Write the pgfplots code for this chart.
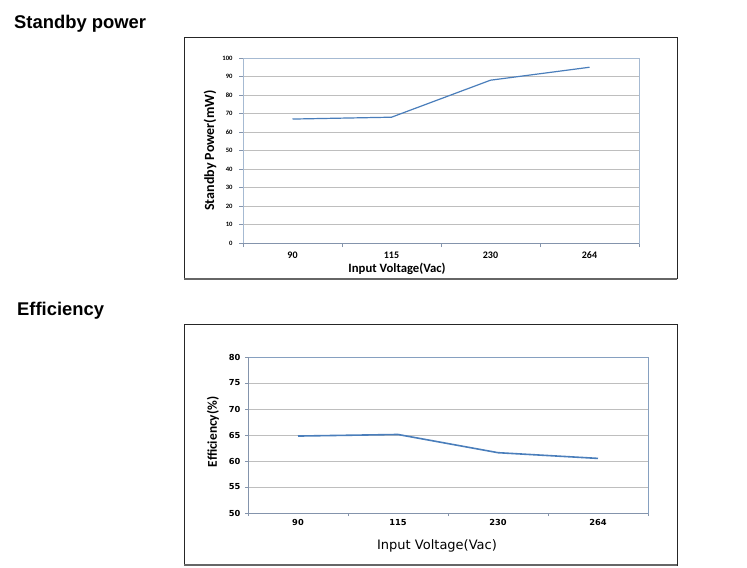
\documentclass[border=0pt]{standalone}
\usepackage{fontspec}
\setmainfont{Carlito}
\newfontfamily\arialfont{Liberation Sans}
\newfontfamily\dejavufont{DejaVu Sans}
\usepackage{pgfplots}
\pgfplotsset{compat=1.18}

\definecolor{linecol}{HTML}{4A7EBB}
\definecolor{gridcol}{HTML}{BEBEBE}
\definecolor{boxone}{HTML}{A6BAD2}
\definecolor{boxtwo}{HTML}{86A0C0}
\definecolor{axiscol}{HTML}{8494AC}

\newcommand{\px}[1]{\fontsize{#1bp}{#1bp}\selectfont}

\pgfplotsset{
  excelchart/.style={
    scale only axis,
    anchor=south west,
    xmin=0, xmax=4,
    xtick={0,1,2,3,4}, xticklabels={},
    extra x ticks={0.5,1.5,2.5,3.5},
    extra x tick labels={90,115,230,264},
    extra x tick style={major tick length=0pt},
    tick align=outside,
    xtick pos=left, ytick pos=left,
    major tick length=4bp,
    tick style={color=axiscol, line width=0.6bp},
    ymajorgrids,
    major grid style={gridcol, line width=0.8bp},
    /pgf/number format/assume math mode=true,
    clip=false,
  },
}

\begin{document}
\begin{tikzpicture}
\path[use as bounding box, fill=white] (0,0) rectangle (747bp,-568bp);

% section titles
\node[anchor=base west, inner sep=0pt, font=\arialfont\bfseries\px{18.4}] at (14bp,-28bp) {Standby power};
\node[anchor=base west, inner sep=0pt, font=\arialfont\bfseries\px{18.4}] at (17bp,-315bp) {Efficiency};

% frames
\draw[black!85, line width=1bp] (184bp,-37bp) rectangle (677bp,-278bp);
\draw[black!60, line width=2bp] (184bp,-278.5bp) -- (677bp,-278.5bp);
\draw[black!85, line width=1bp] (184bp,-324bp) rectangle (677bp,-565bp);
\draw[black!60, line width=2bp] (184bp,-565bp) -- (677bp,-565bp);

% Standby power
\begin{axis}[
  excelchart,
  at={(243bp,-243bp)},
  width=396bp, height=185bp,
  ymin=0, ymax=100,
  ytick={0,10,...,100},
  axis line style={boxone, line width=0.8bp},
  yticklabel style={font=\bfseries\px{6.6}, xshift=-3bp},
  xticklabel style={font=\bfseries\px{10}, yshift=-5bp},
  xlabel={Input Voltage(Vac)},
  ylabel={Standby Power(mW)},
  xlabel style={font=\bfseries\px{12.7}, at={(axis description cs:0.389,0)}, anchor=center, yshift=-26bp},
  ylabel style={font=\bfseries\px{14}, at={(axis description cs:0,0.5)}, anchor=center, yshift=33bp},
]
\draw[axiscol, line width=0.8bp] (rel axis cs:0,0) -- (rel axis cs:1,0);
\addplot[linecol, line width=1.2bp] coordinates {
  (0.5,67) (1.5,68) (2.5,88) (3.5,95)
};
\end{axis}

% Efficiency
\begin{axis}[
  excelchart,
  at={(248bp,-513bp)},
  width=400bp, height=156bp,
  ymin=50, ymax=80,
  ytick={50,55,...,80},
  major tick length=3bp,
  axis line style={boxtwo, line width=0.8bp},
  yticklabel style={font=\dejavufont\bfseries\px{8.3}, xshift=-1bp},
  xticklabel style={font=\dejavufont\bfseries\px{8.3}, yshift=-3bp},
  xlabel={Input Voltage(Vac)},
  ylabel={Efficiency(\%)},
  xlabel style={font=\dejavufont\px{13}, at={(axis description cs:0.4725,0)}, anchor=center, yshift=-33bp},
  ylabel style={font=\bfseries\px{13.4}, at={(axis description cs:0,0.52)}, anchor=center, yshift=35bp},
]
\draw[axiscol, line width=0.9bp] (rel axis cs:0,1) -- (rel axis cs:0,0) -- (rel axis cs:1,0);
\addplot[linecol, line width=1.6bp] coordinates {
  (0.5,64.8) (1.5,65.1) (2.5,61.6) (3.5,60.5)
};
\end{axis}
\end{tikzpicture}
\end{document}
